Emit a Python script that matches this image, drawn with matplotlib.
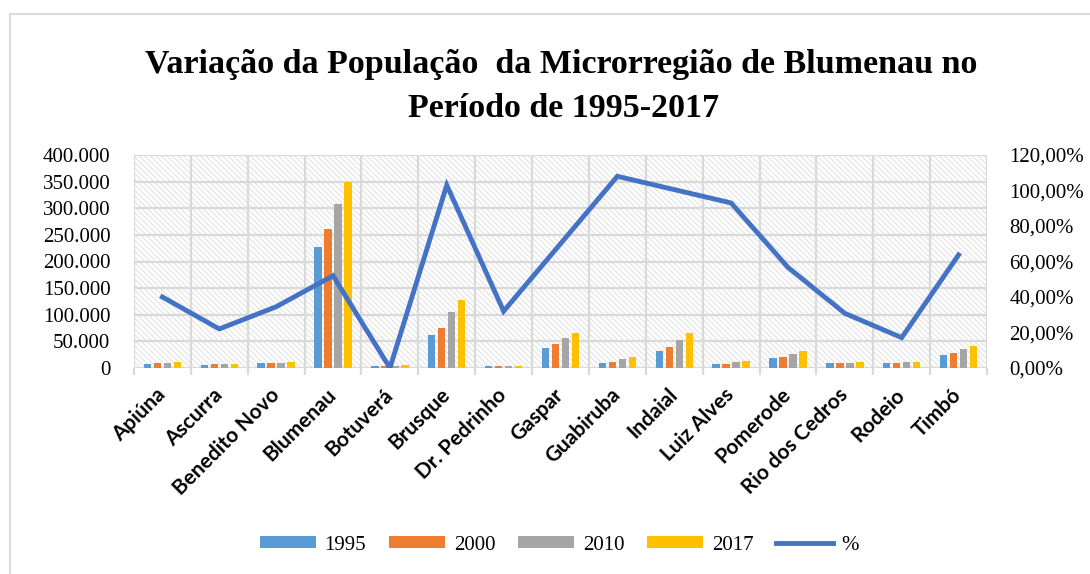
import numpy as np
import matplotlib
matplotlib.use('Agg')
import matplotlib.pyplot as plt
from matplotlib.patches import Rectangle, Patch
from matplotlib.lines import Line2D
from matplotlib.ticker import FuncFormatter, MultipleLocator

municipios = ['Apiúna', 'Ascurra', 'Benedito Novo', 'Blumenau', 'Botuverá', 'Brusque',
              'Dr. Pedrinho', 'Gaspar', 'Guabiruba', 'Indaial', 'Luiz Alves', 'Pomerode',
              'Rio dos Cedros', 'Rodeio', 'Timbó']
pop_1995 = [7500, 6500, 8800, 228000, 4000, 62000, 3100, 37500, 9400, 32000, 7000, 18800, 8500, 9000, 24400]
pop_2000 = [8500, 6900, 9000, 261000, 3800, 74500, 3000, 45000, 11900, 38800, 7800, 20700, 8900, 10300, 28700]
pop_2010 = [9600, 7400, 10300, 308000, 4500, 104600, 3600, 56300, 16900, 53200, 10400, 26300, 10300, 11000, 35000]
pop_2017 = [10500, 7800, 11000, 348700, 5000, 127700, 3900, 65700, 20700, 65100, 12400, 32000, 11000, 11300, 41300]
variacao = [0.40, 0.22, 0.345, 0.52, 0.0, 1.03, 0.32, 0.70, 1.08, 1.005, 0.93, 0.567, 0.308, 0.171, 0.637]
anos = ['1995', '2000', '2010', '2017']
cores = ['#5B9BD5', '#ED7D31', '#A5A5A5', '#FFC000']

serif = 'Liberation Serif'
plt.rcParams['hatch.linewidth'] = 0.8

fig = plt.figure(figsize=(10.9, 5.74), dpi=100)
ax = fig.add_axes([134/1090, 1-368/574, (987-134)/1090, (368-155)/574])

x = np.arange(len(municipios))
series = [pop_1995, pop_2000, pop_2010, pop_2017]
step = 0.176
for i, vals in enumerate(series):
    ax.bar(x + (i-1.5)*step, vals, width=0.13, color=cores[i], zorder=3)

ax.set_xlim(-0.5, len(municipios)-0.5)
ax.set_ylim(0, 400000)
ax.yaxis.set_major_locator(MultipleLocator(50000))
ax.yaxis.set_major_formatter(FuncFormatter(lambda v, p: '0' if v == 0 else f'{int(v):,}'.replace(',', '.')))

# hatched background
ax.add_patch(Rectangle((0, 0), 1, 1, transform=ax.transAxes, facecolor='white',
                       edgecolor='#e3e3e3', hatch='\\\\\\\\\\\\', lw=0, zorder=0))
grid_c = '#d9d9d9'
for yv in np.arange(50000, 400001, 50000):
    ax.axhline(yv, color=grid_c, lw=1.6, zorder=1)
for xv in np.arange(-0.5, len(municipios), 1):
    ax.axvline(xv, color=grid_c, lw=1.6, zorder=1)
for s in ax.spines.values():
    s.set_visible(False)
ax.axhline(0, color=grid_c, lw=1.6, zorder=2)

ax.set_xticks(np.arange(-0.5, len(municipios), 1), minor=False)
ax.set_xticklabels([])
ax.tick_params(axis='x', which='major', length=5, width=1.6, color=grid_c)
ax.set_xticks(x, minor=True)
ax.set_xticklabels(municipios, minor=True, rotation=45, ha='right', va='center',
                   rotation_mode='anchor', fontsize=15, fontfamily='Lato', fontweight='bold')
ax.tick_params(axis='x', which='minor', length=0, pad=17)
ax.tick_params(axis='y', length=0, pad=17, labelsize=15)
for lb in ax.get_yticklabels():
    lb.set_fontfamily(serif)

ax2 = ax.twinx()
ax2.plot(x, variacao, color='#4472C4', lw=3.5, solid_joinstyle='miter', zorder=4)
ax2.set_ylim(0, 1.2)
ax2.yaxis.set_major_locator(MultipleLocator(0.2))
ax2.yaxis.set_major_formatter(FuncFormatter(lambda v, p: f'{v*100:.2f}%'.replace('.', ',')))
ax2.tick_params(axis='y', length=0, pad=16, labelsize=15)
for lb in ax2.get_yticklabels():
    lb.set_fontfamily(serif)
for s in ax2.spines.values():
    s.set_visible(False)

fig.text(0.515, 1-73/574, 'Variação da População  da Microrregião de Blumenau no',
         ha='center', va='baseline', fontsize=24.5, fontweight='bold', fontfamily=serif)
fig.text(0.517, 1-117/574, 'Período de 1995-2017',
         ha='center', va='baseline', fontsize=24.5, fontweight='bold', fontfamily=serif)

handles = [Patch(facecolor=c, edgecolor='none') for c in cores]
handles.append(Line2D([], [], color='#4472C4', lw=3.5))
fig.legend(handles, anos + ['%'], loc='center', bbox_to_anchor=(0.513, 1-545/574), ncol=5,
           frameon=False, prop={'family': serif, 'size': 15}, handlelength=2.7,
           handleheight=0.55, columnspacing=1.1, handletextpad=0.4)

fig.add_artist(Rectangle((10/1090, -0.1), 1.2, 1-14/574+0.1, transform=fig.transFigure,
                         fill=False, edgecolor='#d9d9d9', lw=1.5))

fig.savefig('out.png', dpi=100)
